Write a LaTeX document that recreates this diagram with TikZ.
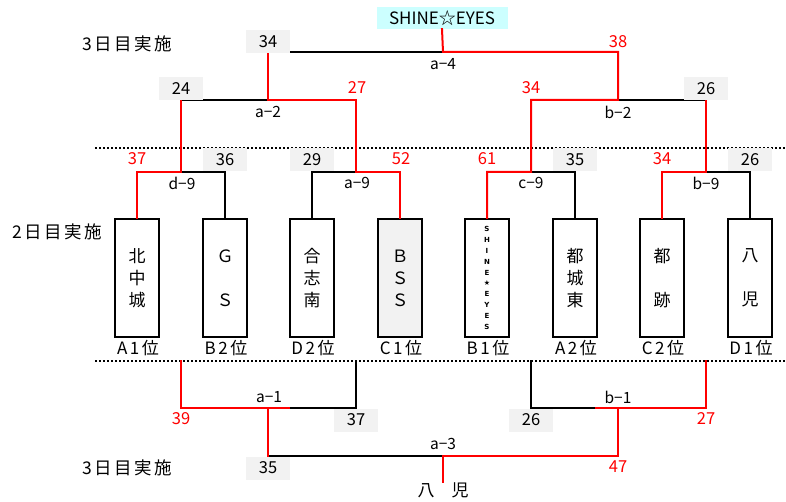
\documentclass[tikz,border=0pt]{standalone}
\usepackage{fontspec}
\setmainfont{Noto Sans CJK JP}
\newfontfamily\dvfont{DejaVu Sans}
\definecolor{lgray}{HTML}{F2F2F2}
\definecolor{lcyan}{HTML}{CCFFFF}
\newcommand{\ks}{\kern2.6pt}
\begin{document}
\begin{tikzpicture}[x=1pt,y=-1pt,
  wire/.style={line width=2pt,line cap=rect,line join=miter},
  win/.style={wire,draw=red},
  lose/.style={wire,draw=black},
  dotline/.style={line width=2pt,dash pattern=on 2pt off 2pt},
  team/.style={draw,line width=2.2pt,minimum width=44pt,minimum height=118pt,inner sep=0pt,align=center,font=\fontsize{17}{22}\selectfont},
  lsc/.style={fill=lgray,minimum width=44pt,minimum height=23pt,inner sep=0pt,font=\fontsize{16.5}{18}\selectfont},
  wsc/.style={text=red,inner sep=0pt,font=\fontsize{16.5}{18}\selectfont},
  mlab/.style={inner sep=0pt,font=\fontsize{15.5}{18}\selectfont},
  rank/.style={inner sep=0pt,font=\fontsize{17}{18}\selectfont},
  daylab/.style={inner sep=0pt,anchor=west,font=\fontsize{17.5}{20}\selectfont}]
\useasboundingbox (0,0) rectangle (786,502);
% champion
\node[fill=lcyan,minimum width=131pt,minimum height=22pt,inner sep=0pt,font=\fontsize{17}{18}\selectfont] (champ) at (442,18) {SHINE☆EYES};
% day labels
\node[daylab] (d3a) at (82,44) {3\ks 日\ks 目\ks 実\ks 施};
\node[daylab] (d2) at (12,232) {2\ks 日\ks 目\ks 実\ks 施};
\node[daylab] (d3b) at (82,468) {3\ks 日\ks 目\ks 実\ks 施};
% teams
\node[team] (t1) at (137,278) {北\\中\\城};
\node[team] (t2) at (225,278) {Ｇ\\ \\Ｓ};
\node[team] (t3) at (312,278) {合\\志\\南};
\node[team,fill=lgray] (t4) at (400,278) {Ｂ\\Ｓ\\Ｓ};
\node[team,font=\fontsize{7}{10.8}\selectfont\dvfont\bfseries] (t5) at (487,278) {S\\H\\I\\N\\E\\★\\E\\Y\\E\\S};
\node[team] (t6) at (575,278) {都\\城\\東};
\node[team] (t7) at (662,278) {都\\ \\跡};
\node[team] (t8) at (750,278) {八\\ \\児};
% ranks
\node[rank] (r1) at (138,348) {A\ks 1\ks 位};
\node[rank] (r2) at (226,348) {B\ks 2\ks 位};
\node[rank] (r3) at (313,348) {D\ks 2\ks 位};
\node[rank] (r4) at (401,348) {C\ks 1\ks 位};
\node[rank] (r5) at (488,348) {B\ks 1\ks 位};
\node[rank] (r6) at (576,348) {A\ks 2\ks 位};
\node[rank] (r7) at (663,348) {C\ks 2\ks 位};
\node[rank] (r8) at (751,348) {D\ks 1\ks 位};
% dotted lines
\coordinate (dl1) at (95,148); \coordinate (dr1) at (786,148);
\coordinate (dl2) at (95,361); \coordinate (dr2) at (786,361);
\draw[dotline] (dl1) -- (dr1);
\draw[dotline] (dl2) -- (dr2);
% coordinates top
\coordinate (a4L) at (268,52); \coordinate (a4M) at (443,52); \coordinate (a4R) at (618,52);
\coordinate (a2L) at (181,100); \coordinate (a2M) at (268,100); \coordinate (a2R) at (356,100);
\coordinate (b2L) at (531,100); \coordinate (b2M) at (618,100); \coordinate (b2R) at (706,100);
\coordinate (d9L) at (137,172); \coordinate (d9M) at (181,172); \coordinate (d9R) at (225,172);
\coordinate (a9L) at (312,172); \coordinate (a9M) at (356,172); \coordinate (a9R) at (400,172);
\coordinate (c9L) at (487,172); \coordinate (c9M) at (531,172); \coordinate (c9R) at (575,172);
\coordinate (b9L) at (662,172); \coordinate (b9M) at (706,172); \coordinate (b9R) at (750,172);
% black wires
\draw[lose] (t2.north) -- (d9R) -- (d9M);
\draw[lose] (t3.north) -- (a9L) -- (a9M);
\draw[lose] (t6.north) -- (c9R) -- (c9M);
\draw[lose] (t8.north) -- (b9R) -- (b9M);
\draw[lose] (a2L) -- (a2M);
\draw[lose] (b2M) -- (b2R);
\draw[lose] (a4L) -- (a4M);
% red wires
\draw[win] (t1.north) -- (d9L) -- (d9M) -- (a2L);
\draw[win] (t4.north) -- (a9R) -- (a9M) -- (a2R) -- (a2M) -- (a4L);
\draw[win] (t5.north) -- (c9L) -- (c9M) -- (b2L) -- (b2M) -- (a4R) -- (a4M) -- (champ.south);
\draw[win] (t7.north) -- (b9L) -- (b9M) -- (b2R);
% bottom coordinates
\coordinate (x1) at (181,361); \coordinate (x1b) at (181,408);
\coordinate (x1m) at (289,408); \coordinate (x1j) at (268,408);
\coordinate (x2b) at (356,408); \coordinate (x2) at (356,361);
\coordinate (y1) at (531,361); \coordinate (y1b) at (531,408);
\coordinate (y1m) at (596,408); \coordinate (y1j) at (618,408);
\coordinate (y2b) at (706,408); \coordinate (y2) at (706,361);
\coordinate (zL) at (268,456); \coordinate (zM) at (443,456); \coordinate (zR) at (618,456);
\node[inner sep=0pt,font=\fontsize{17}{18}\selectfont] (fin) at (443,490) {八　児};
\draw[lose] (x1m) -- (x2b) -- (x2);
\draw[lose] (y1) -- (y1b) -- (y1m);
\draw[lose] (zL) -- (zM);
\draw[win] (x1) -- (x1b) -- (x1m);
\draw[win] (x1j) -- (zL);
\draw[win] (y1m) -- (y2b) -- (y2);
\draw[win] (y1j) -- (zR) -- (zM) -- (fin.north);
% match labels
\node[mlab] (m1) at (443,64) {a−4};
\node[mlab] (m2) at (268,112) {a−2};
\node[mlab] (m3) at (618,112) {b−2};
\node[mlab] (m4) at (182,183) {d−9};
\node[mlab] (m5) at (357,183) {a−9};
\node[mlab] (m6) at (531,183) {c−9};
\node[mlab] (m7) at (706,183) {b−9};
\node[mlab] (m8) at (269,397) {a−1};
\node[mlab] (m9) at (618,397) {b−1};
\node[mlab] (m10) at (443,444) {a−3};
% losing scores
\node[lsc] (s1) at (268,42) {34};
\node[lsc] (s2) at (181,89) {24};
\node[lsc] (s3) at (706,89) {26};
\node[lsc] (s4) at (225,160) {36};
\node[lsc] (s5) at (312,160) {29};
\node[lsc] (s6) at (575,160) {35};
\node[lsc] (s7) at (750,160) {26};
\node[lsc] (s8) at (356,420) {37};
\node[lsc] (s9) at (531,420) {26};
\node[lsc] (s10) at (268,468) {35};
% winning scores
\node[wsc] (w1) at (618,42) {38};
\node[wsc] (w2) at (357,88) {27};
\node[wsc] (w3) at (531,88) {34};
\node[wsc] (w4) at (137,159) {37};
\node[wsc] (w5) at (401,159) {52};
\node[wsc] (w6) at (487,159) {61};
\node[wsc] (w7) at (662,159) {34};
\node[wsc] (w8) at (181,419) {39};
\node[wsc] (w9) at (706,419) {27};
\node[wsc] (w10) at (618,467) {47};
\end{tikzpicture}
\end{document}
